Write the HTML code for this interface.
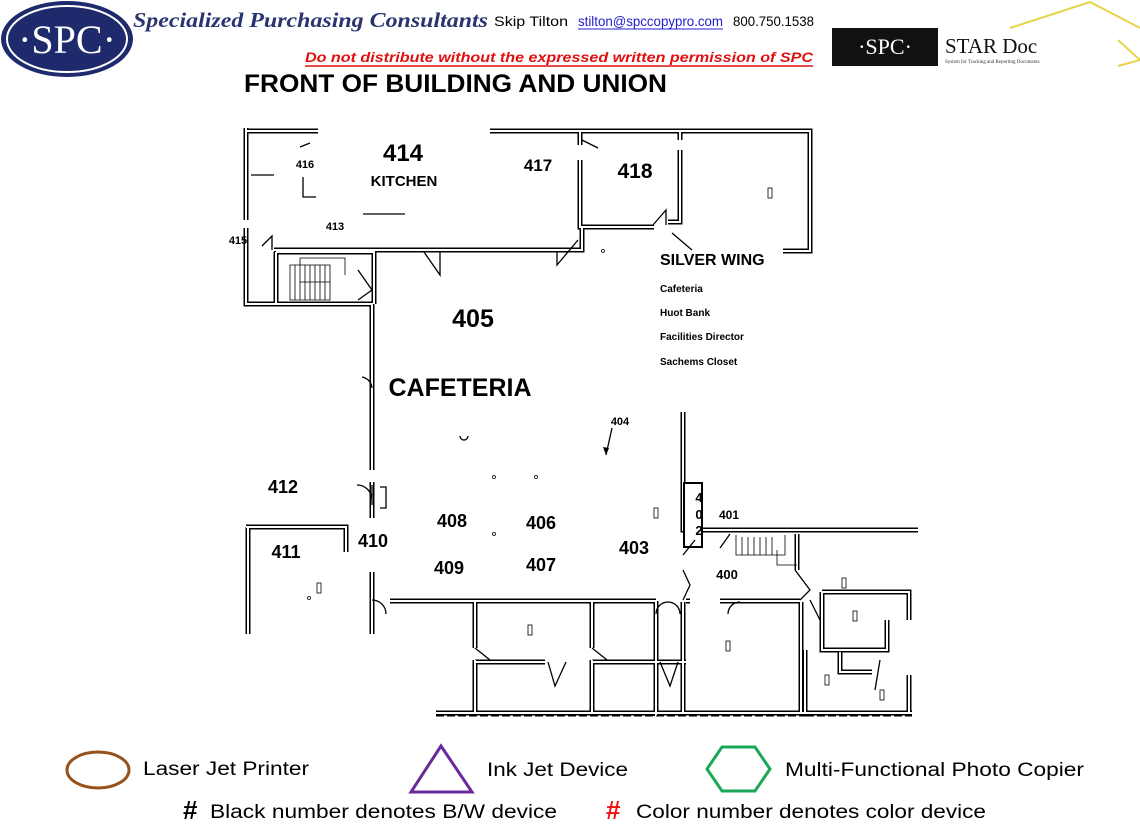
<!DOCTYPE html>
<html><head><meta charset="utf-8"><style>
html,body{margin:0;padding:0;background:#fff;}
svg{display:block;}
.t{fill:none;stroke:#000;stroke-width:1.3;}
.lb{font-family:"Liberation Sans Narrow","Liberation Sans",sans-serif;font-weight:bold;fill:#000;text-anchor:middle;}
.ar{font-family:"Liberation Sans Narrow","Liberation Sans",sans-serif;fill:#000;}
</style></head><body>
<svg width="1140" height="828" viewBox="0 0 1140 828" xmlns="http://www.w3.org/2000/svg">
<defs>
<path id="walls" fill="none" d="M246,128 V220 M246,228 V304 H372 V470 M372,482 V518 M372,572 V634
M246,131 H318 M490,131 H810 V251 H783
M274,250 H582 V227 M580,160 V227 H654 M680,150 V222 H668
M580,131 V145 M680,131 V140
M276,252 V304 M276,252 H374 V304
M246,527 H346 V552 M248,527 V634
M390,601 H656 M686,601 H690 M720,601 H800
M475,601 V648 M475,660 V713 M475,662 H545 M592,601 V648 M592,660 V713 M592,662 H686
M656,601 V716
M683,412 V530 H918 M686,534 V545
M683,602 V713 M801,602 V713 M683,713 H912 M436,713 H683
M797,534 V570 M822,592 H909 V620 M822,592 V650 H887 V620 M805,650 V713 M909,675 V713
M840,652 V672 H872"/>
</defs>
<!-- header logo -->
<ellipse cx="67" cy="39" rx="66" ry="38" fill="#1e2a6b"/>
<ellipse cx="67" cy="39" rx="60" ry="33" fill="none" stroke="#fff" stroke-width="2"/>
<text x="67" y="53" font-family="Liberation Serif,serif" font-size="40" fill="#fff" text-anchor="middle">·SPC·</text>
<text x="133" y="27" font-family="Liberation Serif,serif" font-style="italic" font-weight="bold" font-size="21" fill="#2a3570" textLength="355" lengthAdjust="spacingAndGlyphs">Specialized Purchasing Consultants</text>
<text x="494" y="26" class="ar" font-size="14" textLength="74" lengthAdjust="spacingAndGlyphs">Skip Tilton</text>
<text x="578" y="26" class="ar" font-size="14" style="fill:#2222cc" textLength="145" lengthAdjust="spacingAndGlyphs">stilton@spccopypro.com</text>
<line x1="578" y1="29" x2="723" y2="29" stroke="#2222cc" stroke-width="1"/>
<text x="733" y="26" class="ar" font-size="14" textLength="81" lengthAdjust="spacingAndGlyphs">800.750.1538</text>
<text x="305" y="62" font-family="Liberation Sans,sans-serif" font-style="italic" font-weight="bold" font-size="14" fill="#e01010" textLength="508" lengthAdjust="spacingAndGlyphs">Do not distribute without the expressed written permission of SPC</text>
<line x1="305" y1="66" x2="813" y2="66" stroke="#e01010" stroke-width="1.5"/>
<!-- star doc -->
<polyline points="1010,28 1090,2 1140,28" fill="none" stroke="#e8d44a" stroke-width="2"/>
<polyline points="1118,40 1140,60 1118,66 M1060,28 1090,2 1112,28" fill="none" stroke="#e8d44a" stroke-width="2"/>
<rect x="832" y="28" width="106" height="38" fill="#111"/>
<text x="885" y="54" font-family="Liberation Serif,serif" font-size="22" fill="#fff" text-anchor="middle">·SPC·</text>
<text x="945" y="53" font-family="Liberation Serif,serif" font-size="21" fill="#111">STAR Doc</text>
<text x="945" y="63" font-family="Liberation Serif,serif" font-size="5" fill="#333">System for Tracking and Reporting Documents</text>
<text x="244" y="92" font-family="Liberation Sans Narrow,Liberation Sans,sans-serif" font-weight="bold" font-size="25" textLength="423" lengthAdjust="spacingAndGlyphs">FRONT OF BUILDING AND UNION</text>

<use href="#walls" style="fill:none;stroke:#000;stroke-width:5"/>
<use href="#walls" style="fill:none;stroke:#fff;stroke-width:2"/>
<!-- stairs -->
<path fill="none" stroke="#000" stroke-width="0.8" d="M290,265 H330 V300 H290 Z M295,265 V300 M300,265 V300 M305,265 V300 M310,265 V300 M315,265 V300 M320,265 V300 M325,265 V300 M300,282 H330 M300,258 H345 V275 M300,258 V282"/>
<path fill="none" stroke="#000" stroke-width="0.8" d="M736,535 V555 H785 V535 M742,537 V555 M748,537 V555 M754,537 V555 M760,537 V555 M766,537 V555 M772,537 V555 M777,550 V565 H797"/>
<!-- 402 box -->
<rect x="684" y="483" width="18" height="64" fill="#fff" stroke="#000" stroke-width="2"/>
<text x="699" y="502" class="lb" font-size="13">4</text>
<text x="699" y="519" class="lb" font-size="13">0</text>
<text x="699" y="535" class="lb" font-size="13">2</text>
<!-- doors and thin details -->
<path class="t" d="M424,252 L440,275 V252 M557,252 L557,265 L578,240 M582,140 L598,148 M653,225 L666,210 V225 M672,233 L692,250
M251,175 H274 M303,177 V197 H316 M363,214 H405 M300,147 L310,143
M262,246 L272,236 V250 M358,270 L372,290 L358,300
M372,500 A15,15 0 0 0 357,485 M372,485 V505 M380,487 H386 V508 H380
M362,377 A12,12 0 0 1 372,388
M372,600 A14,14 0 0 1 386,614 M656,614 A12,12 0 0 1 668,602 M668,602 A12,12 0 0 1 680,614
M475,648 L490,660 M592,648 L607,660 M548,662 L555,686 L566,662 M660,662 L670,686 L678,662
M683,570 L690,585 L683,600 M683,555 L695,540 M740,602 A12,12 0 0 0 728,614 M795,570 L810,590 L800,600 M810,600 L820,620
M880,660 L875,690 M720,548 L730,534
M460,436 A4,4 0 0 0 468,436 M612,428 L606,455"/>
<path d="M606,455 L603,447 L609,448 Z" fill="#000"/>
<g fill="none" stroke="#000" stroke-width="0.8">
<circle cx="603" cy="251" r="1.5"/><circle cx="494" cy="477" r="1.5"/><circle cx="536" cy="477" r="1.5"/><circle cx="494" cy="534" r="1.5"/><circle cx="309" cy="598" r="1.5"/>
<rect x="768" y="188" width="4" height="10"/><rect x="317" y="583" width="4" height="10"/><rect x="528" y="625" width="4" height="10"/><rect x="654" y="508" width="4" height="10"/><rect x="726" y="641" width="4" height="10"/><rect x="842" y="578" width="4" height="10"/><rect x="853" y="611" width="4" height="10"/><rect x="825" y="675" width="4" height="10"/><rect x="880" y="690" width="4" height="10"/>
</g>
<path d="M806,716 H912 M436,716 H806" stroke="#000" stroke-width="1" stroke-dasharray="8,3"/>

<!-- labels -->
<text x="403" y="161" class="lb" font-size="24">414</text>
<text x="404" y="186" class="lb" font-size="15">KITCHEN</text>
<text x="305" y="168" class="lb" font-size="11">416</text>
<text x="335" y="230" class="lb" font-size="11">413</text>
<text x="238" y="244" class="lb" font-size="11">415</text>
<text x="538" y="171" class="lb" font-size="17">417</text>
<text x="635" y="178" class="lb" font-size="21">418</text>
<text x="660" y="265" class="lb" font-size="16" style="text-anchor:start">SILVER WING</text>
<text x="660" y="292" class="lb" font-size="10" style="text-anchor:start">Cafeteria</text>
<text x="660" y="316" class="lb" font-size="10" style="text-anchor:start">Huot Bank</text>
<text x="660" y="340" class="lb" font-size="10" style="text-anchor:start">Facilities Director</text>
<text x="660" y="365" class="lb" font-size="10" style="text-anchor:start">Sachems Closet</text>
<text x="473" y="327" class="lb" font-size="25">405</text>
<text x="460" y="396" class="lb" font-size="25">CAFETERIA</text>
<text x="620" y="425" class="lb" font-size="11">404</text>
<text x="283" y="493" class="lb" font-size="18">412</text>
<text x="452" y="527" class="lb" font-size="18">408</text>
<text x="541" y="529" class="lb" font-size="18">406</text>
<text x="373" y="547" class="lb" font-size="18">410</text>
<text x="286" y="558" class="lb" font-size="18">411</text>
<text x="449" y="574" class="lb" font-size="18">409</text>
<text x="541" y="571" class="lb" font-size="18">407</text>
<text x="634" y="554" class="lb" font-size="18">403</text>
<text x="729" y="519" class="lb" font-size="12">401</text>
<text x="727" y="579" class="lb" font-size="13">400</text>

<!-- legend -->
<ellipse cx="98" cy="770" rx="31" ry="18" fill="none" stroke="#96521a" stroke-width="3"/>
<text x="143" y="775" class="ar" font-size="19" textLength="166" lengthAdjust="spacingAndGlyphs">Laser Jet Printer</text>
<polygon points="441,746 411,792 472,792" fill="none" stroke="#6a2a9a" stroke-width="3"/>
<text x="487" y="776" class="ar" font-size="19" textLength="141" lengthAdjust="spacingAndGlyphs">Ink Jet Device</text>
<polygon points="722,747 755,747 770,769 755,791 722,791 707,769" fill="none" stroke="#1aa858" stroke-width="3"/>
<text x="785" y="776" class="ar" font-size="19" textLength="299" lengthAdjust="spacingAndGlyphs">Multi-Functional Photo Copier</text>
<text x="183" y="819" font-family="Liberation Sans,sans-serif" font-weight="bold" font-size="26">#</text>
<text x="210" y="818" class="ar" font-size="19" textLength="347" lengthAdjust="spacingAndGlyphs">Black number denotes B/W device</text>
<text x="606" y="819" font-family="Liberation Sans,sans-serif" font-weight="bold" font-size="26" fill="#f01010">#</text>
<text x="636" y="818" class="ar" font-size="19" textLength="350" lengthAdjust="spacingAndGlyphs">Color number denotes color device</text>
</svg>
</body></html>
